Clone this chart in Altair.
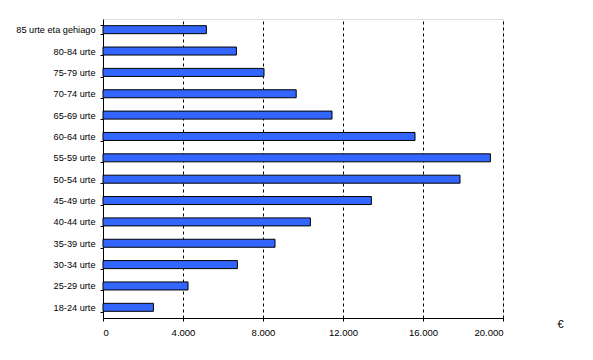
import altair as alt
import pandas as pd

categories = ["85 urte eta gehiago", "80-84 urte", "75-79 urte", "70-74 urte",
              "65-69 urte", "60-64 urte", "55-59 urte", "50-54 urte",
              "45-49 urte", "40-44 urte", "35-39 urte", "30-34 urte",
              "25-29 urte", "18-24 urte"]
values = [5170, 6670, 8050, 9660, 11450, 15600, 19370, 17850,
          13420, 10370, 8600, 6720, 4250, 2520]
x_ticks = [0, 4000, 8000, 12000, 16000, 20000]

df = pd.DataFrame({"cat": categories, "val": values})

FONT = "Liberation Sans"

chart = alt.Chart(df).mark_bar(
    color="#3366FF", stroke="#000000", strokeWidth=1, size=8
).encode(
    x=alt.X("val:Q",
            scale=alt.Scale(domain=[0, 20000], nice=False, zero=True),
            axis=alt.Axis(values=x_ticks, grid=True, gridDash=[3, 3],
                          gridColor="#000000", gridOpacity=1, gridWidth=1,
                          domainColor="#000000", tickColor="#000000",
                          tickSize=3, labelPadding=6,
                          labelExpr="replace(format(datum.value, ','), ',', '.')",
                          labelFont=FONT, labelFontSize=9.5, labelColor="#000000",
                          title="€", titleAngle=0, titleX=457, titleY=6,
                          titleBaseline="middle", titleAlign="center",
                          titleFont=FONT, titleFontSize=11,
                          titleFontWeight="normal", titleColor="#000000")),
    y=alt.Y("cat:N", sort=categories,
            scale=alt.Scale(paddingInner=0.6, paddingOuter=0.3),
            axis=alt.Axis(title=None, grid=False, tickBand="extent",
                          domainColor="#000000", tickColor="#000000",
                          tickSize=3, labelPadding=5,
                          labelFont=FONT, labelFontSize=9.2, labelColor="#000000"))
).properties(
    width=400, height=299,
    autosize=alt.AutoSizeParams(type="none"),
    padding={"left": 95, "top": 11, "right": 82, "bottom": 34}
).configure_view(
    stroke="#808080", strokeWidth=1
).configure(background="#ffffff")

chart.save("out.html", embed_options={"renderer": "svg", "actions": False})
